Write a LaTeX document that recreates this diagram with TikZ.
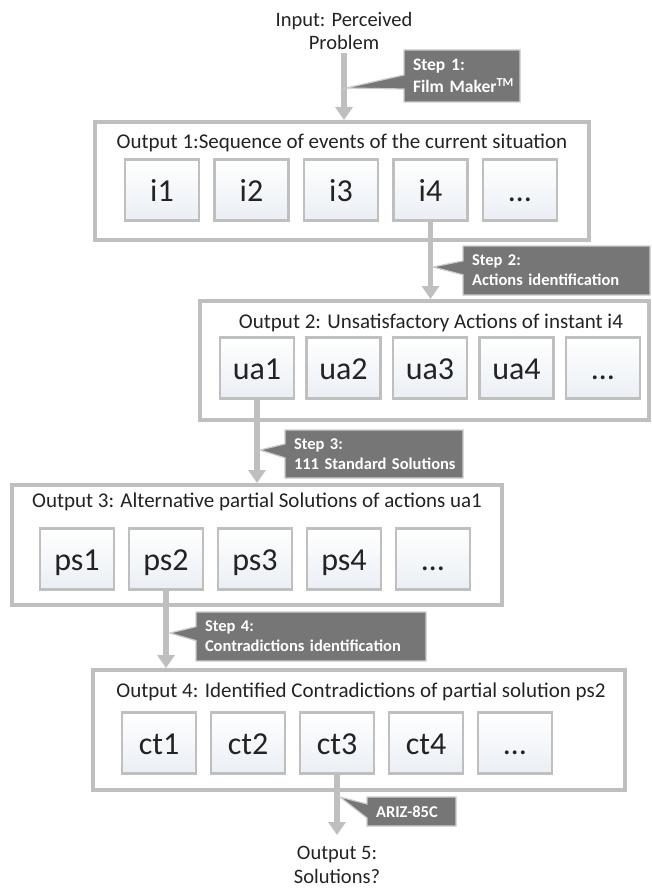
\documentclass[tikz,border=0pt]{standalone}
\usepackage{fontspec}
\setmainfont{Carlito}
\usetikzlibrary{arrows.meta}
\usetikzlibrary{shapes.callouts}

\definecolor{framegray}{RGB}{191,191,191}
\definecolor{stepgray}{RGB}{118,118,118}
\definecolor{cellblue}{RGB}{234,239,245}
\definecolor{inkgray}{RGB}{35,35,35}

\begin{document}
\begin{tikzpicture}[x=1pt, y=-1pt,
  outer/.style={draw=framegray, line width=4pt, fill=white, inner sep=0pt},
  cell/.style={draw=framegray, line width=2.5pt, top color=white, bottom color=cellblue,
    minimum width=74pt, minimum height=61pt, inner sep=0pt, text=inkgray,
    text height=26pt, text depth=4pt, font=\fontsize{32}{36}\selectfont},
  title/.style={text=inkgray, font=\fontsize{21}{25}\selectfont},
  plain/.style={text=inkgray, align=center, font=\fontsize{20.5}{23.5}\selectfont},
  flow/.style={draw=framegray, line width=5.5pt, -{Triangle[width=17pt,length=13pt]}},
  stepnote/.style={rectangle callout, fill=stepgray, draw=gray!40, line width=1.2pt,
    callout pointer width=14pt, text=white, align=left, inner xsep=9pt,
    font=\bfseries\fontsize{16.5}{20}\selectfont}
]
\useasboundingbox (0,0) rectangle (652,888);

\node[plain] (input) at (344,31) {Input: Perceived\\Problem};

% output boxes
\node[outer, minimum width=494pt, minimum height=118pt] (box1) at (342,181) {};
\node[title] (title1) at (342,143) {Output 1:Sequence of events of the current situation};
\foreach \lbl [count=\k] in {i1,i2,i3,i4,\ldots}
  \node[cell] (i\k) at ({162+89.5*(\k-1)},190) {\lbl};

\node[outer, minimum width=449pt, minimum height=119pt] (box2) at (424.5,360.5) {};
\node[title] (title2) at (431,323) {Output 2: Unsatisfactory Actions of instant i4};
\foreach \lbl [count=\k] in {ua1,ua2,ua3,ua4,\ldots}
  \node[cell] (ua\k) at ({257+86.5*(\k-1)},368) {\lbl};

\node[outer, minimum width=490pt, minimum height=120pt] (box3) at (257,545) {};
\node[title] (title3) at (257,502) {Output 3: Alternative partial Solutions of actions ua1};
\foreach \lbl [count=\k] in {ps1,ps2,ps3,ps4,\ldots}
  \node[cell] (ps\k) at ({77+89*(\k-1)},559) {\lbl};

\node[outer, minimum width=532pt, minimum height=120pt] (box4) at (359,730) {};
\node[title] (title4) at (361,692) {Output 4: Identified Contradictions of partial solution ps2};
\foreach \lbl [count=\k] in {ct1,ct2,ct3,ct4,\ldots}
  \node[cell] (ct\k) at ({159+89*(\k-1)},743) {\lbl};

\node[plain] (out5) at (337,865) {Output 5:\\Solutions?};

% arrows between outputs
\draw[flow] (input.south) -- (input.south |- box1.north);
\draw[flow] (i4.south) -- (i4.south |- box2.north);
\draw[flow] (ua1.south) -- (ua1.south |- box3.north);
\draw[flow] (ps2.south) -- (ps2.south |- box4.north);
\draw[flow, shorten >=8pt] (ct3.south) -- (ct3.south |- out5.north);

% step notes
\node[stepnote, minimum width=116pt, minimum height=52pt, text width=98pt,
  font=\bfseries\fontsize{17.5}{22}\selectfont,
  callout absolute pointer={(346,88)}] (step1) at (462,76)
  {\mbox{Step 1:}\\\mbox{Film Maker\textsuperscript{TM}}};
\node[stepnote, minimum width=187pt, minimum height=49pt, text width=169pt,
  callout absolute pointer={(433,267)}] (step2) at (556.5,270.5)
  {\mbox{Step 2:}\\\mbox{Actions identification}};
\node[stepnote, minimum width=178pt, minimum height=48pt, text width=160pt,
  callout absolute pointer={(260,450)}] (step3) at (374,454)
  {\mbox{Step 3:}\\\mbox{111 Standard Solutions}};
\node[stepnote, minimum width=230pt, minimum height=49pt, text width=212pt,
  callout absolute pointer={(170,633)}] (step4) at (311,636.5)
  {\mbox{Step 4:}\\\mbox{Contradictions identification}};
\node[stepnote, minimum width=89pt, minimum height=29pt, text width=71pt,
  callout absolute pointer={(340,797)}] (ariz) at (411.5,811.5)
  {ARIZ-85C};
\end{tikzpicture}
\end{document}
